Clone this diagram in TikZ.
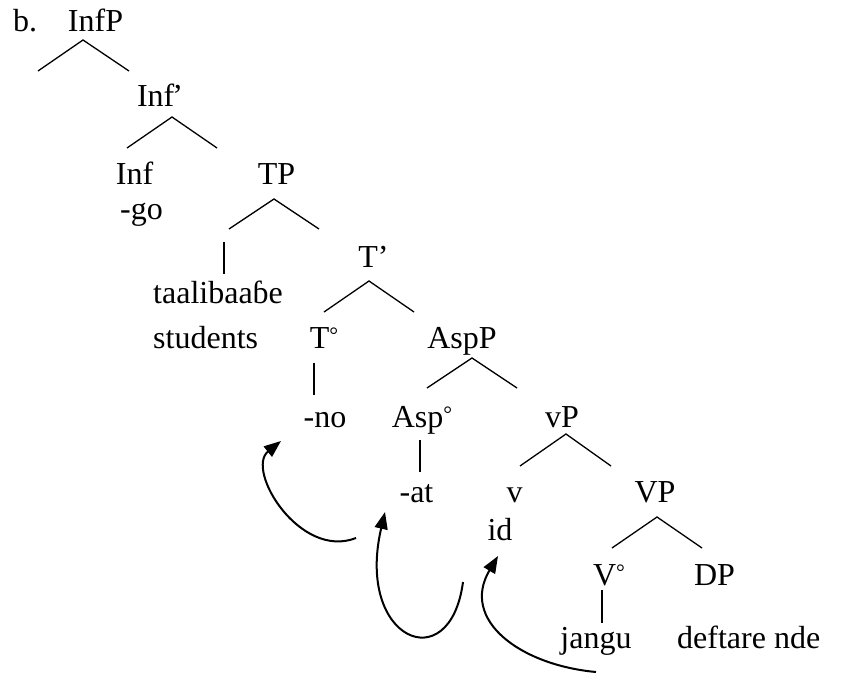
\documentclass[tikz,border=0pt]{standalone}
\usepackage{fontspec}
\setmainfont{Liberation Serif}
\usetikzlibrary{arrows.meta}
\newcommand\dgr{\raisebox{6pt}{\fontsize{22}{22}\selectfont °}}
\begin{document}
\begin{tikzpicture}[x=1pt,y=-1pt,
  lbl/.style={anchor=base,inner sep=0pt,font=\fontsize{32}{38}\selectfont},
  lblw/.style={lbl,anchor=base west},
  br/.style={line width=1.3pt},
  mv/.style={line width=2pt,-{Triangle[length=17pt,width=13pt]}}]
\useasboundingbox (0,0) rectangle (841,674);
% labels
\node[lblw] (b) at (13,32) {b.};
\node[lbl] (InfP) at (95.5,32) {InfP};
\node[lbl] (Infbar) at (160,107) {Inf\kern-2pt’};
\node[lbl] (Inf) at (134.5,185) {Inf};
\node[lbl] (go) at (141.5,219) {-go};
\node[lbl] (TP) at (276.5,185) {TP};
\node[lblw] (taal) at (153,303) {taalibaaɓe};
\node[lblw] (stud) at (153,348) {students};
\node[lbl] (Tbar) at (373.5,267) {T’};
\node[lbl] (T0) at (324,348) {T\dgr};
\node[lbl] (AspP) at (462,348) {AspP};
\node[lbl] (no) at (325,427) {-no};
\node[lbl] (Asp0) at (422,427) {Asp\dgr};
\node[lbl] (vP) at (562,427) {vP};
\node[lbl] (at) at (416.5,502) {-at};
\node[lbl] (v) at (514.5,502) {v};
\node[lbl] (id) at (500,540) {id};
\node[lbl] (VP) at (655,502) {VP};
\node[lbl] (V0) at (609,585) {V\dgr};
\node[lbl] (DP) at (714.5,585) {DP};
\node[lbl] (jangu) at (596,648) {jangu};
\node[lblw] (deft) at (677,648) {deftare nde};
% branch points
\coordinate (a1) at (83,40);  \coordinate (a1l) at (38,71);  \coordinate (a1r) at (129,71);
\coordinate (a2) at (172,117); \coordinate (a2l) at (127,148); \coordinate (a2r) at (217,148);
\coordinate (a3) at (274,199); \coordinate (a3l) at (229,229); \coordinate (a3r) at (319,229);
\coordinate (s3t) at (224,242); \coordinate (s3b) at (224,274);
\coordinate (a4) at (369,281); \coordinate (a4l) at (324,312); \coordinate (a4r) at (414,312);
\coordinate (s4t) at (314,363); \coordinate (s4b) at (314,395);
\coordinate (a5) at (472,358); \coordinate (a5l) at (427,388); \coordinate (a5r) at (517,388);
\coordinate (s5t) at (420,440); \coordinate (s5b) at (420,472);
\coordinate (a6) at (566,434); \coordinate (a6l) at (520,466); \coordinate (a6r) at (611,466);
\coordinate (a7) at (657,517); \coordinate (a7l) at (612,548); \coordinate (a7r) at (702,548);
\coordinate (s7t) at (602,590); \coordinate (s7b) at (602,623);
\draw[br] (a1l) -- (a1) -- (a1r);
\draw[br] (a2l) -- (a2) -- (a2r);
\draw[br] (a3l) -- (a3) -- (a3r);
\draw[br] (s3t) -- (s3b);
\draw[br] (a4l) -- (a4) -- (a4r);
\draw[br] (s4t) -- (s4b);
\draw[br] (a5l) -- (a5) -- (a5r);
\draw[br] (s5t) -- (s5b);
\draw[br] (a6l) -- (a6) -- (a6r);
\draw[br] (a7l) -- (a7) -- (a7r);
\draw[br] (s7t) -- (s7b);
% movement arrows
\coordinate (m1s) at (356,538); \coordinate (m1e) at (281,441);
\coordinate (m2s) at (463,582); \coordinate (m2e) at (385,512);
\coordinate (m3s) at (596,672); \coordinate (m3e) at (498,556);
\draw[mv] (m1s) .. controls (300,560) and (245,470) .. (m1e);
\draw[mv] (m2s) .. controls (450,680) and (355,640) .. (m2e);
\draw[mv] (m3s) .. controls (520,665) and (460,620) .. (m3e);
\end{tikzpicture}
\end{document}
